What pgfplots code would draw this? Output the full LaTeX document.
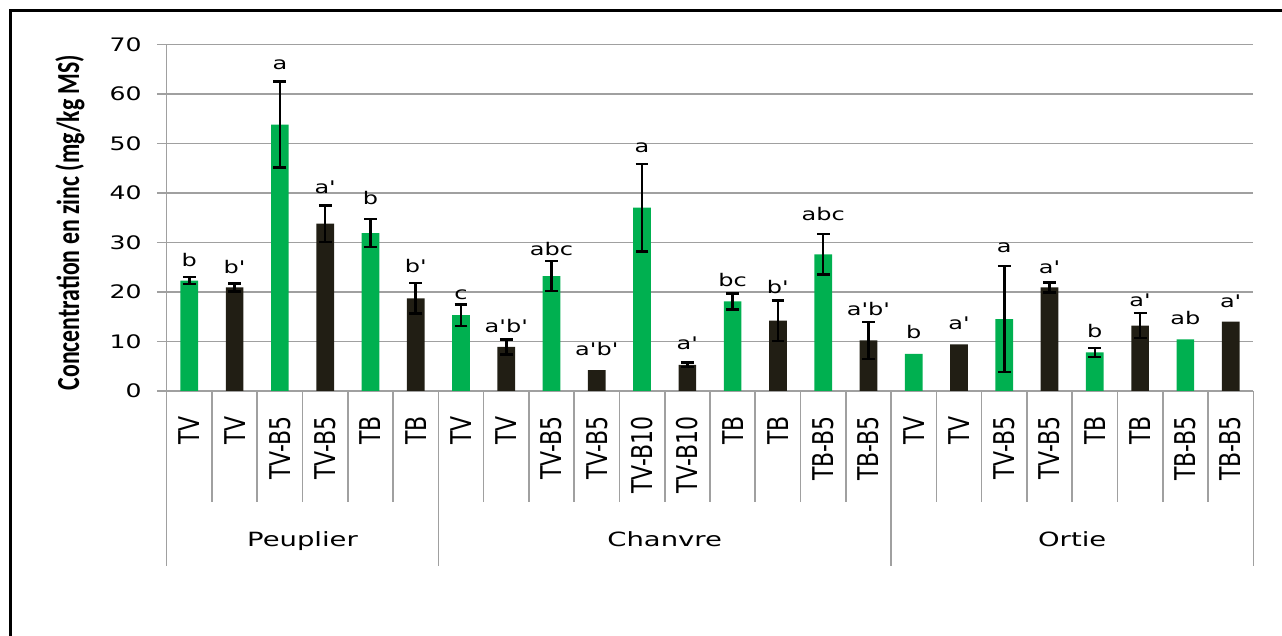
\documentclass[border=0pt]{standalone}
\usepackage{pgfplots}
\pgfplotsset{compat=1.18}
\usepackage{pgfplotstable}
\usepackage{fontspec}
\setmainfont{DejaVu Sans}[Ligatures=TeXOff]
\newfontfamily\carlito{Carlito}
\definecolor{xgreen}{RGB}{0,176,80}
\definecolor{xblack}{RGB}{33,30,20}
\definecolor{gridgray}{RGB}{160,160,160}

\pgfplotstableread{
x y e
0 22.3 0.7
2 53.8 8.7
4 31.9 2.8
6 15.3 2.2
8 23.2 3.0
10 37.0 8.8
12 18.1 1.6
14 27.6 4.1
18 14.5 10.7
20 7.8 0.9
}\greenerr
\pgfplotstableread{
x y
16 7.5
22 10.4
}\greennoerr
\pgfplotstableread{
x y e
1 20.9 0.8
3 33.8 3.7
5 18.7 3.1
7 8.9 1.5
11 5.3 0.5
13 14.2 4.1
15 10.2 3.7
19 20.9 1.0
21 13.2 2.5
}\blackerr
\pgfplotstableread{
x y
9 4.2
17 9.4
23 14.0
}\blacknoerr
\pgfplotstableread{
x ly lab
0 25.1 b
1 23.7 b'
2 65.0 a
3 39.9 a'
4 37.7 b
5 23.9 b'
6 18.4 c
7 11.8 a'b'
8 27.4 abc
9 7.1 a'b'
10 48.1 a
11 8.3 a'
12 21.0 bc
13 19.6 b'
14 34.4 abc
15 15.3 a'b'
16 10.6 b
17 12.5 a'
18 28.0 a
19 23.7 a'
20 10.8 b
21 17.1 a'
22 13.5 ab
23 16.9 a'
}\labels

\begin{document}
\begin{tikzpicture}
\useasboundingbox (0,0) rectangle (641pt,-318pt);
\draw[line width=1.15pt] (5.2pt,-320pt) -- (5.2pt,-5.2pt) -- (643pt,-5.2pt);
\begin{axis}[
  at={(83.35pt,-195.5pt)}, anchor=south west,
  scale only axis, width=543.3pt, height=173.35pt,
  xmin=-0.5, xmax=23.5, ymin=0, ymax=70,
  axis x line*=bottom, axis y line*=left,
  axis line style={gridgray, line width=0.8pt, -},
  ymajorgrids, grid style={gridgray, line width=0.8pt},
  ytick={0,10,...,70},
  xtick={0,...,23},
  xticklabels={TV,TV,TV-B5,TV-B5,TB,TB,TV,TV,TV-B5,TV-B5,TV-B10,TV-B10,TB,TB,TB-B5,TB-B5,TV,TV,TV-B5,TV-B5,TB,TB,TB-B5,TB-B5},
  tick align=outside, major tick length=4.85pt,
  xtick style={draw=none}, ytick style={gridgray, line width=0.8pt},
  /pgf/number format/assume math mode=true,
  yticklabel style={font=\fontsize{9.3}{10}\selectfont, xscale=1.35, anchor=east, inner sep=0pt, xshift=-5.5pt},
  xticklabel style={font=\fontsize{11}{13}\selectfont, rotate=90, yscale=1.3, anchor=east, inner sep=0pt, xshift=-7.5pt},
  ylabel={Concentration en zinc (mg/kg MS)},
  ylabel style={font=\carlito\bfseries\fontsize{11.9}{14}\selectfont, at={(axis description cs:-0.089,0.486)}, anchor=center, yscale=1.35},
  clip=false,
]
\addplot[ybar, bar width=8.85pt, bar shift=0pt, fill=xgreen, draw=none,
  error bars/.cd, y dir=both, y explicit, error mark=-,
  error bar style={black, line width=1.25pt},
  error mark options={black, line width=1.25pt, mark size=3.2pt, rotate=90}]
  table[x=x, y=y, y error=e] {\greenerr};
\addplot[ybar, bar width=8.85pt, bar shift=0pt, fill=xgreen, draw=none]
  table[x=x, y=y] {\greennoerr};
\addplot[ybar, bar width=8.85pt, bar shift=0pt, fill=xblack, draw=none,
  error bars/.cd, y dir=both, y explicit, error mark=-,
  error bar style={black, line width=1.25pt},
  error mark options={black, line width=1.25pt, mark size=3.2pt, rotate=90}]
  table[x=x, y=y, y error=e] {\blackerr};
\addplot[ybar, bar width=8.85pt, bar shift=0pt, fill=xblack, draw=none]
  table[x=x, y=y] {\blacknoerr};
\addplot[draw=none, mark=none, forget plot, nodes near coords, point meta=explicit symbolic,
  every node near coord/.append style={anchor=base, inner sep=0pt, yshift=0pt, font=\fontsize{8.7}{10}\selectfont, xscale=1.38, text=black}]
  table[x=x, y=ly, meta=lab] {\labels};
\pgfplotsinvokeforeach{0.5,1.5,2.5,3.5,4.5,6.5,7.5,8.5,9.5,10.5,11.5,12.5,13.5,14.5,16.5,17.5,18.5,19.5,20.5,21.5,22.5}{
  \draw[gridgray, line width=0.8pt] (axis cs:#1,0) -- ++(0pt,-55.5pt);
}
\pgfplotsinvokeforeach{-0.5,5.5,15.5,23.5}{
  \draw[gridgray, line width=0.8pt] (axis cs:#1,0) -- ++(0pt,-87.35pt);
}
\node[yshift=-77.85pt, xscale=1.4, anchor=base, inner sep=0pt, font=\fontsize{9.8}{12}\selectfont] at (axis cs:2.5,0) {Peuplier};
\node[yshift=-77.85pt, xscale=1.4, anchor=base, inner sep=0pt, font=\fontsize{9.8}{12}\selectfont] at (axis cs:10.5,0) {Chanvre};
\node[yshift=-77.85pt, xscale=1.4, anchor=base, inner sep=0pt, font=\fontsize{9.8}{12}\selectfont] at (axis cs:19.5,0) {Ortie};
\end{axis}
\end{tikzpicture}
\end{document}
